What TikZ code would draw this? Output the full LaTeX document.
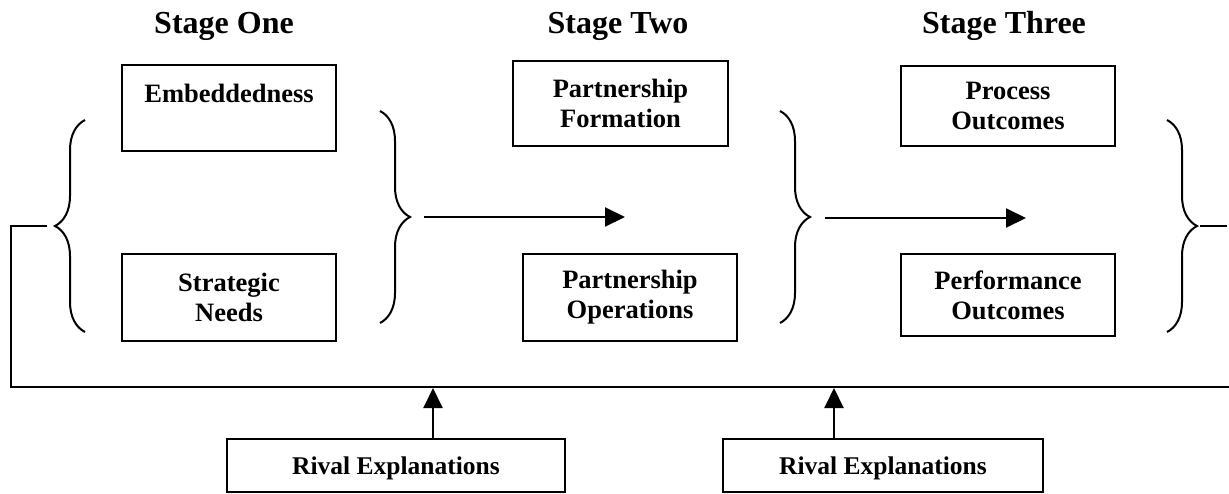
\documentclass[tikz,border=0pt]{standalone}
\usepackage{fontspec}
\setmainfont{Liberation Serif}
\usetikzlibrary{arrows.meta,decorations.pathreplacing}

\begin{document}
\begin{tikzpicture}[
  x=1pt,y=-1pt,
  stagebox/.style={draw,line width=2pt,inner sep=0pt,minimum width=214pt,align=center,font=\fontsize{26.5}{30}\selectfont\bfseries},
  rival/.style={draw,line width=2pt,inner sep=0pt,minimum height=53pt,text depth=0pt,font=\fontsize{25.5}{30}\selectfont\bfseries},
  title/.style={anchor=base,font=\fontsize{32}{36}\selectfont\bfseries},
  curly/.style={decorate,decoration={brace,amplitude=30pt},line width=2pt},
  arr/.style={-{Triangle[length=20pt,width=19pt]},line width=2pt},
  feed/.style={line width=2pt}
]
\useasboundingbox (0,0) rectangle (1229,493);

% stage headings
\node[title] (one) at (224,33) {Stage One};
\node[title] (two) at (618,33) {Stage Two};
\node[title] (three) at (1004,33) {Stage Three};

% constructs of each stage
\node[stagebox,minimum height=86pt] (embed) at (229,108) {Embeddedness\\\mbox{}};
\node[stagebox,minimum height=87pt] (needs) at (229,297.5) {Strategic\\Needs};
\node[stagebox,minimum width=215pt,minimum height=85pt] (form) at (620.5,103.5) {Partnership\\Formation};
\node[stagebox,minimum height=87pt] (ops) at (630,297.5) {Partnership\\Operations};
\node[stagebox,minimum height=80pt] (proc) at (1008,106) {Process\\Outcomes};
\node[stagebox,minimum height=82pt] (perf) at (1008,295) {Performance\\Outcomes};

\node[rival,minimum width=338pt] (rival1) at (396,465.5) {Rival Explanations};
\node[rival,minimum width=320pt] (rival2) at (883,465.5) {Rival Explanations};

% braces round the stages
\draw[curly] (85,332) -- (85,120);
\draw[curly] (380,111) -- (380,323);
\draw[curly] (780,111) -- (780,323);
\draw[curly] (1167,120) -- (1167,332);

% flow between stages
\coordinate (s1out) at (424,217);
\coordinate (s2in) at (625,217);
\coordinate (s2out) at (825,218);
\coordinate (s3in) at (1026,218);
\draw[arr] (s1out) -- (s2in);
\draw[arr] (s2out) -- (s3in);

% feedback line along the bottom
\coordinate (fb) at (47,226);
\coordinate (fbcorner) at (11,387);
\coordinate (fbend) at (1229,387);
\draw[feed] (fb) -| (fbcorner) -- (fbend);
\coordinate (tail) at (1200,226);
\coordinate (tailend) at (1227,226);
\draw[feed] (tail) -- (tailend);

\coordinate (hit1) at (433,388);
\coordinate (hit2) at (834,388);
\draw[arr] (rival1.north -| hit1) -- (hit1);
\draw[arr] (rival2.north -| hit2) -- (hit2);
\end{tikzpicture}
\end{document}
